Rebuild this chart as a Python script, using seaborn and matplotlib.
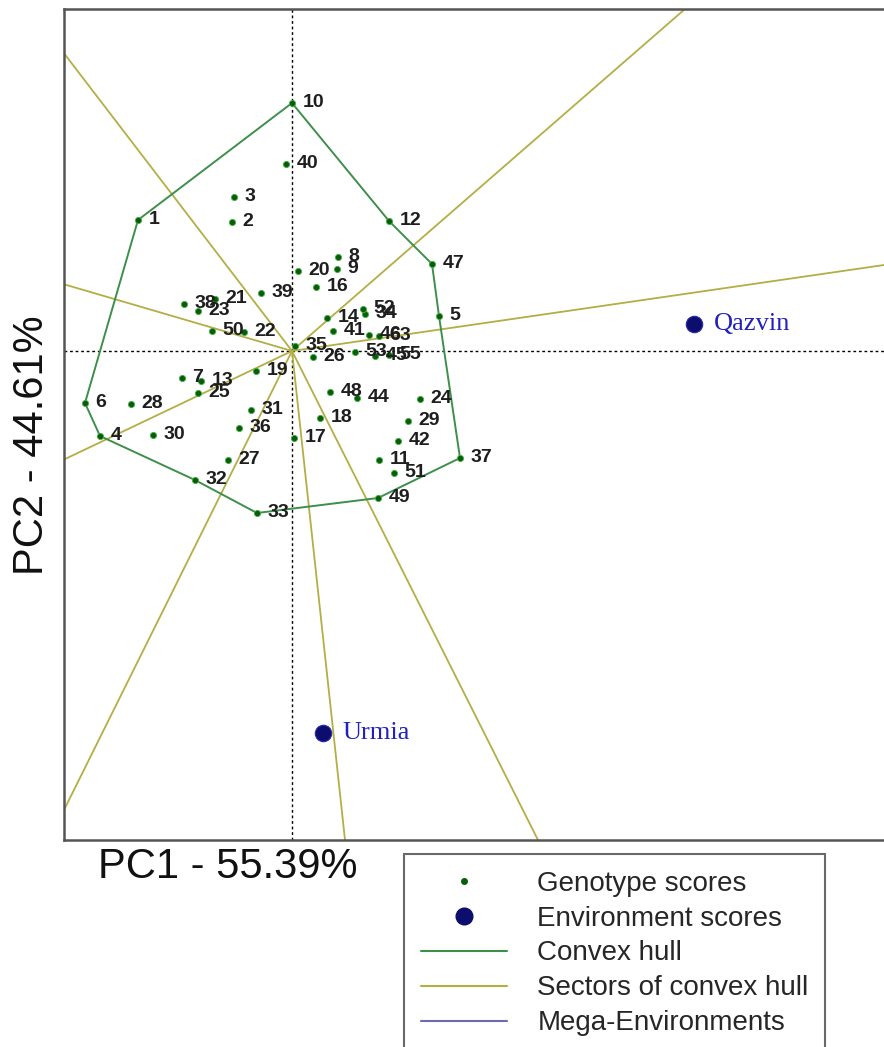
import matplotlib
matplotlib.use('Agg')
import matplotlib.pyplot as plt
import seaborn as sns
import pandas as pd
from matplotlib.lines import Line2D

sns.set_style('white')
plt.rcParams['font.family'] = ['Liberation Sans', 'DejaVu Sans']

# genotype scores (PC1, PC2)
gen_id = [1, 2, 3, 4, 5, 6, 7, 8, 9, 10, 11, 12, 13, 14, 16, 17, 18, 19, 20,
          21, 22, 23, 24, 25, 26, 27, 28, 29, 30, 31, 32, 33, 34, 35, 36, 37,
          38, 39, 40, 41, 42, 44, 45, 46, 47, 48, 49, 50, 51, 52, 53, 55, 63]
gen_pc1 = [-1.54, -0.60, -0.58, -1.92, 1.47, -2.07, -1.10, 0.46, 0.45, 0.00,
           0.87, 0.97, -0.91, 0.35, 0.24, 0.02, 0.28, -0.36, 0.06,
           -0.77, -0.48, -0.94, 1.28, -0.94, 0.21, -0.64, -1.61, 1.16, -1.39,
           -0.41, -0.97, -0.35, 0.73, 0.03, -0.53, 1.68,
           -1.08, -0.31, -0.06, 0.41, 1.06, 0.65, 0.83, 0.77, 1.40, 0.38,
           0.86, -0.80, 1.02, 0.71, 0.63, 0.97, 0.87]
gen_pc2 = [1.31, 1.29, 1.54, -0.85, 0.35, -0.52, -0.27, 0.94, 0.82, 2.48,
           -1.09, 1.30, -0.30, 0.33, 0.64, -0.87, -0.67, -0.20, 0.80,
           0.52, 0.19, 0.40, -0.48, -0.42, -0.06, -1.09, -0.53, -0.70, -0.84,
           -0.59, -1.29, -1.62, 0.37, 0.05, -0.77, -1.07,
           0.47, 0.58, 1.87, 0.20, -0.90, -0.47, -0.05, 0.16, 0.87, -0.41,
           -1.47, 0.20, -1.22, 0.42, -0.01, -0.04, 0.15]

# environment scores
env_name = ['Qazvin', 'Urmia']
env_pc1 = [4.02, 0.31]
env_pc2 = [0.27, -3.82]

# vertices of the convex hull (genotype ids, in drawing order)
hull_order = [10, 12, 47, 5, 37, 49, 33, 32, 4, 6, 1, 10]

# far ends of the sector lines (they all start at the origin)
sector_x = [-2.29, 3.93, 5.92, 2.46, 0.53, -2.29, -2.29, -2.29]
sector_y = [2.99, 3.42, 0.86, -4.89, -4.89, -4.61, -1.09, 0.67]

gen_col = '#0a5c0a'
hull_col = '#3d8f4a'
sector_col = '#b3ae45'
env_col = '#0d0d6e'
mega_col = '#6b6bb0'

gen = pd.DataFrame({'id': gen_id, 'PC1': gen_pc1, 'PC2': gen_pc2})
env = pd.DataFrame({'name': env_name, 'PC1': env_pc1, 'PC2': env_pc2})
hull = gen.set_index('id').loc[hull_order].reset_index()

fig = plt.figure(figsize=(8.84, 10.47), dpi=100)
ax = fig.add_axes([64 / 884, 1 - 840 / 1047, 826 / 884, 831 / 1047])

# sectors
for sx, sy in zip(sector_x, sector_y):
    ax.plot([0, sx], [0, sy], color=sector_col, lw=1.3, zorder=1)

# convex hull
ax.plot(hull['PC1'], hull['PC2'], color=hull_col, lw=1.4, zorder=2)

# dotted axes through the origin
ax.axhline(0, color='black', lw=1, ls=(0, (2, 2)), zorder=0)
ax.axvline(0, color='black', lw=1, ls=(0, (2, 2)), zorder=0)

sns.scatterplot(data=gen, x='PC1', y='PC2', ax=ax, color=gen_col, s=20,
                edgecolor='#45b045', linewidth=0.6, zorder=4, legend=False)
sns.scatterplot(data=env, x='PC1', y='PC2', ax=ax, color=env_col, s=140,
                edgecolor='#2a2ab0', linewidth=0.8, zorder=4, legend=False)

for _, r in gen.iterrows():
    ax.annotate(str(int(r['id'])), (r['PC1'], r['PC2']), xytext=(7.5, 0),
                textcoords='offset points', ha='left', va='center',
                fontsize=14, fontweight='bold', color='#1e1e1e', zorder=5)

for _, r in env.iterrows():
    ax.annotate(r['name'], (r['PC1'], r['PC2']), xytext=(14, 0),
                textcoords='offset points', ha='left', va='center',
                fontsize=19, color='#2222bb', family='Liberation Serif', zorder=5)

ax.set_xlim(-2.28, 5.98)
ax.set_ylim(-4.89, 3.42)
ax.set_xticks([])
ax.set_yticks([])
ax.set_xlabel('')
ax.set_ylabel('')
for side in ['left', 'top', 'bottom', 'right']:
    ax.spines[side].set_color('#555555')
    ax.spines[side].set_linewidth(1.8)

fig.text(228 / 884, 1 - 867 / 1047, 'PC1 - 55.39%', fontsize=30,
         ha='center', va='center', color='#111111')
fig.text(32 / 884, 1 - 445 / 1047, 'PC2 - 44.61%', fontsize=30,
         ha='center', va='center', rotation=90, color='#111111')

handles = [
    Line2D([], [], marker='o', ls='', color=gen_col, markersize=4),
    Line2D([], [], marker='o', ls='', color=env_col, markersize=12),
    Line2D([], [], color=hull_col, lw=1.5),
    Line2D([], [], color=sector_col, lw=1.5),
    Line2D([], [], color=mega_col, lw=1.5),
]
labels = ['Genotype scores', 'Environment scores', 'Convex hull',
          'Sectors of convex hull', 'Mega-Environments']
leg = fig.legend(handles, labels, loc='upper left',
                 bbox_to_anchor=(404 / 884, 1 - 854 / 1047), frameon=True,
                 fancybox=False, edgecolor='#444444', fontsize=20,
                 handlelength=3.1, handletextpad=1.1, labelspacing=0.32,
                 borderpad=0.6, borderaxespad=0)
leg.get_frame().set_linewidth(1.5)

fig.savefig('out.png', dpi=100)
